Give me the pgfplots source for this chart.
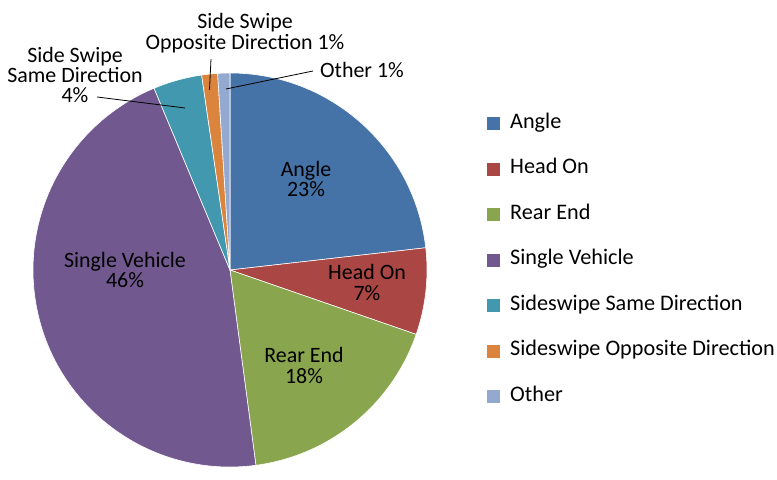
\documentclass[border=0pt]{standalone}
\usepackage{pgfplots}
\usepackage{pgfplotstable}
\usepackage{fontspec}
\setmainfont{Carlito}
\pgfplotsset{compat=1.18}
\definecolor{cA}{HTML}{4572A7}
\definecolor{cB}{HTML}{AA4643}
\definecolor{cC}{HTML}{89A54E}
\definecolor{cD}{HTML}{71588F}
\definecolor{cE}{HTML}{4198AF}
\definecolor{cF}{HTML}{DB843D}
\definecolor{cG}{HTML}{93A9CF}
\pgfplotstableread[col sep=comma]{
label,value,color
Angle,23.2,cA
Head On,7.1,cB
Rear End,17.6,cC
Single Vehicle,45.8,cD
Sideswipe Same Direction,4.0,cE
Sideswipe Opposite Direction,1.3,cF
Other,1.0,cG
}\piedata
\newcommand\lbl{\fontsize{22}{20.5}\selectfont}
\newcommand\lgd{\fontsize{22.3}{22}\selectfont}
\begin{document}
\begin{tikzpicture}
\begin{axis}[
  x=1bp, y=1bp, xmin=0, xmax=777, ymin=0, ymax=466,
  hide axis, clip=false,
  legend cell align=left,
  legend image code/.code={\fill[#1, draw=none] (0bp,-6.5bp) rectangle (13bp,6.5bp);},
  legend style={at={(axis cs:487,352)}, anchor=north west, draw=none, fill=none,
    inner sep=0pt, font=\lgd, row sep=26.5bp,
    nodes={inner sep=0pt, text height=14bp, text depth=5bp},
    /tikz/every odd column/.append style={column sep=10bp}},
]
\path (axis cs:0,0) rectangle (axis cs:777,466);
\def\cum{90}
\pgfplotsforeachungrouped \i in {0,...,6}{%
  \pgfplotstablegetelem{\i}{value}\of\piedata \let\v\pgfplotsretval
  \pgfplotstablegetelem{\i}{color}\of\piedata \let\c\pgfplotsretval
  \pgfmathsetmacro\endang{\cum-3.6*\v}%
  \edef\temp{\noexpand\fill[\c, draw=white, line width=0.6pt] (axis cs:230,196) -- ++(\cum:197bp) arc[start angle=\cum, end angle=\endang, radius=197bp] -- cycle;}%
  \temp
  \edef\temp{\noexpand\addlegendimage{fill=\c, draw=none}}%
  \temp
  \global\let\cum\endang
}
\legend{Angle,Head On,Rear End,Single Vehicle,Sideswipe Same Direction,Sideswipe Opposite Direction,Other}
\node[font=\lbl, align=center, inner sep=0pt] at (axis cs:306,287) {Angle\\23\%};
\node[font=\lbl, align=center, inner sep=0pt] at (axis cs:367,183.5) {Head On\\7\%};
\node[font=\lbl, align=center, inner sep=0pt] at (axis cs:304,100.5) {Rear End\\18\%};
\node[font=\lbl, align=center, inner sep=0pt] at (axis cs:125,196) {Single Vehicle\\46\%};
\node[font=\lbl, align=center, inner sep=0pt] at (axis cs:75,391) {Side Swipe\\Same Direction\\4\%};
\node[font=\lbl, align=center, inner sep=0pt] at (axis cs:245,433) {Side Swipe\\Opposite Direction 1\%};
\node[font=\lbl, anchor=west, inner sep=0pt] at (axis cs:320,396) {Other 1\%};
\draw[black, line width=0.8pt] (axis cs:97,369) -- (axis cs:185,358);
\draw[black, line width=0.8pt] (axis cs:211,407) -- (axis cs:209.5,376);
\draw[black, line width=0.8pt] (axis cs:313,395) -- (axis cs:226,377);
\end{axis}
\end{tikzpicture}
\end{document}
